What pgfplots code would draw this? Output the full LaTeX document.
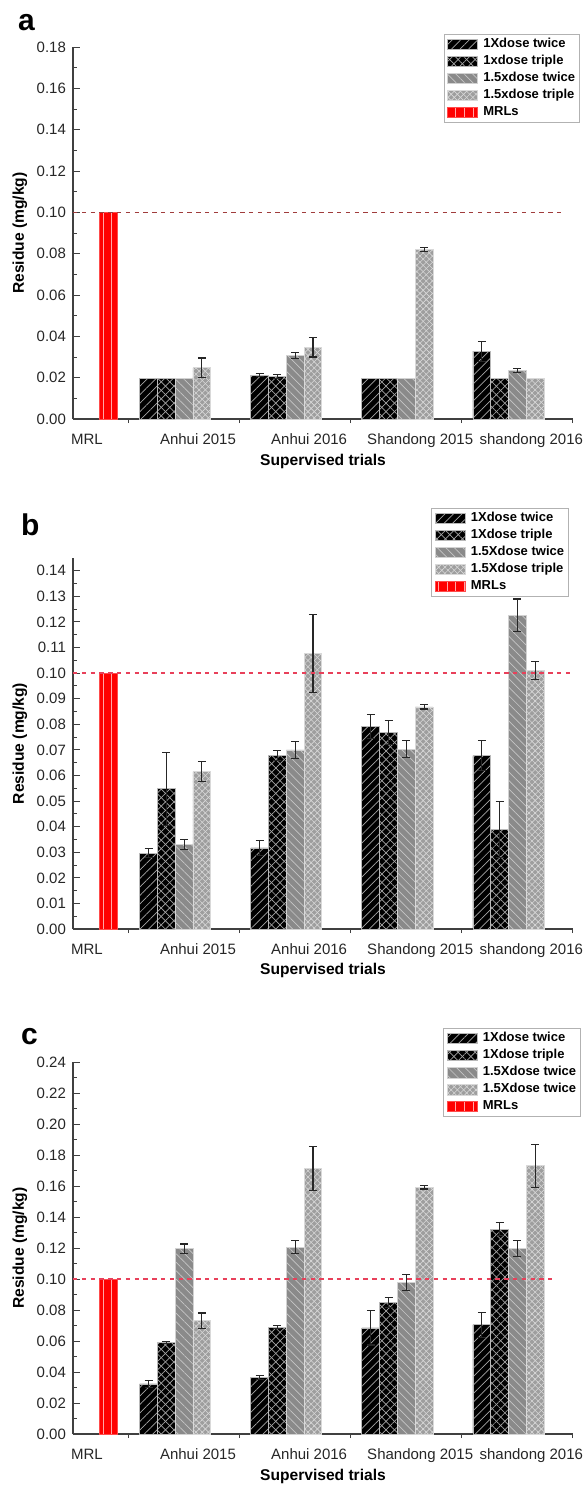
\documentclass[border=0pt]{standalone}
\usepackage{fontspec}
\setmainfont{Liberation Sans}
\usepackage{pgfplots}
\pgfplotsset{compat=1.18}
\usepackage{pgfplotstable}
\usetikzlibrary{patterns.meta}

% bar heights, groups at x = 1..4
\pgfplotstableread{
x v1     v2     v3     v4
1 0.0198 0.0197 0.0197 0.0248
2 0.0212 0.0204 0.0307 0.0348
3 0.0198 0.0197 0.0197 0.0820
4 0.0328 0.0197 0.0236 0.0197
}\tabA
\pgfplotstableread{
x y e
1.16 0.0248 0.0047
1.68 0.0212 0.0008
1.84 0.0204 0.0010
2.00 0.0307 0.0013
2.16 0.0348 0.0048
3.16 0.0820 0.0010
3.68 0.0328 0.0049
4.00 0.0236 0.0009
}\errA

\pgfplotstableread{
x v1     v2     v3     v4
1 0.0296 0.0548 0.0330 0.0615
2 0.0317 0.0678 0.0700 0.1078
3 0.0791 0.0769 0.0703 0.0868
4 0.0678 0.0389 0.1227 0.1010
}\tabB
\pgfplotstableread{
x y e
0.68 0.0296 0.0018
0.84 0.0548 0.0142
1.00 0.0330 0.0020
1.16 0.0615 0.0040
1.68 0.0317 0.0029
1.84 0.0678 0.0018
2.00 0.0700 0.0032
2.16 0.1078 0.0152
2.68 0.0791 0.0048
2.84 0.0769 0.0047
3.00 0.0703 0.0033
3.16 0.0868 0.0008
3.68 0.0678 0.0058
3.84 0.0389 0.0108
4.00 0.1227 0.0063
4.16 0.1010 0.0035
}\errB

\pgfplotstableread{
x v1     v2     v3     v4
1 0.0323 0.0591 0.1196 0.0731
2 0.0366 0.0690 0.1206 0.1713
3 0.0684 0.0849 0.0978 0.1591
4 0.0705 0.1321 0.1196 0.1730
}\tabC
\pgfplotstableread{
x y e
0.68 0.0323 0.0025
0.84 0.0591 0.0005
1.00 0.1196 0.0030
1.16 0.0731 0.0050
1.68 0.0366 0.0012
1.84 0.0690 0.0012
2.00 0.1206 0.0043
2.16 0.1713 0.0140
2.68 0.0684 0.0110
2.84 0.0849 0.0032
3.00 0.0978 0.0050
3.16 0.1591 0.0010
3.68 0.0705 0.0080
3.84 0.1321 0.0042
4.00 0.1196 0.0052
4.16 0.1730 0.0140
}\errC

\definecolor{midgray}{HTML}{8A8A8A}
\definecolor{lightgray}{HTML}{9E9E9E}
\definecolor{mrlred}{HTML}{FF0000}
\definecolor{dashA}{HTML}{A03C3C}
\definecolor{dashB}{HTML}{E8405A}

\pgfplotsset{
  s1/.style={fill=black, draw=gray!55, line width=0.4pt,
    postaction={pattern={Lines[angle=45,distance=3pt,line width=0.35pt]}, pattern color=gray!70}},
  s2/.style={fill=black, draw=gray!55, line width=0.4pt,
    postaction={pattern={Lines[angle=45,distance=3pt,line width=0.35pt]}, pattern color=gray!70},
    postaction={pattern={Lines[angle=-45,distance=3pt,line width=0.35pt]}, pattern color=gray!70}},
  s3/.style={fill=midgray, draw=gray!35, line width=0.4pt,
    postaction={pattern={Lines[angle=-45,distance=3pt,line width=0.35pt]}, pattern color=gray!45}},
  s4/.style={fill=lightgray, draw=gray!30, line width=0.4pt,
    postaction={pattern={Lines[angle=45,distance=2.2pt,line width=0.3pt]}, pattern color=gray!30},
    postaction={pattern={Lines[angle=-45,distance=2.2pt,line width=0.3pt]}, pattern color=gray!30}},
  s5/.style={fill=mrlred, draw=red!70, line width=0.4pt,
    postaction={pattern={Lines[angle=90,distance=4.3pt,line width=0.4pt]}, pattern color=red!35}},
  errs/.style={forget plot, draw=none, mark=none,
    error bars/.cd, y dir=both, y explicit,
    error bar style={draw=black!85, line width=0.55pt},
    error mark options={rotate=90, draw=black!85, mark size=2pt, line width=0.55pt}},
  panel/.style={
    scale only axis, width=250pt,
    anchor=north west,
    xmin=0, xmax=4.5, ymin=0,
    enlargelimits=false, clip=false,
    axis x line*=bottom, axis y line*=left,
    axis line style={-, line width=0.6pt, draw=black!75},
    tick align=inside,
    major tick length=3.5pt, minor tick length=2pt,
    tick style={line width=0.5pt, draw=black!75},
    xtick={0.125,1.125,2.125,3.125,4.125},
    xticklabels={MRL,Anhui 2015,Anhui 2016,Shandong 2015,shandong 2016},
    major x tick style={draw=none},
    minor xtick={0.5,1.5,2.5,3.5,4.5},
    minor y tick num=1,
    ticklabel style={font=\fontsize{7.5}{8}\selectfont, text=black!85},
    yticklabel style={/pgf/number format/.cd, fixed, fixed zerofill, precision=2, assume math mode=true},
    xticklabel style={yshift=-0.5pt},
    ylabel={Residue (mg/kg)},
    xlabel={Supervised trials},
    label style={font=\bfseries\fontsize{7.8}{8}\selectfont},
    ylabel style={at={(axis description cs:-0.106,0.5)}, anchor=center, rotate=0},
    xlabel style={at={(axis description cs:0.5,-0.113)}, anchor=center},
    ybar, bar width=0.16, bar shift=0pt,
    legend cell align=left,
    legend image code/.code={\draw[##1] (0pt,-2.6pt) rectangle (15pt,2.6pt);},
    legend style={anchor=north east, draw=gray!60, line width=0.5pt,
      font=\bfseries\fontsize{6.5}{7}\selectfont,
      inner xsep=1.5pt, inner ysep=1.2pt, row sep=0.9pt,
      nodes={inner sep=0.7pt},
      /tikz/every odd column/.append style={column sep=2pt}},
  }
}

\begin{document}
\begin{tikzpicture}
\path[use as bounding box] (0,0) rectangle (292.5pt,-742.5pt);

\node[anchor=west, font=\bfseries\fontsize{15}{15}\selectfont] at (5.5pt,-11.5pt) {a};
\node[anchor=west, font=\bfseries\fontsize{15}{15}\selectfont] at (7pt,-262.5pt) {b};
\node[anchor=west, font=\bfseries\fontsize{15}{15}\selectfont] at (7pt,-518.5pt) {c};

% panel a
\begin{axis}[panel, at={(36.5pt,-23.5pt)}, height=186pt,
  ymax=0.18, ytick distance=0.02,
  legend style={at={(axis description cs:1.014,1.035)}}]
\addplot[s1] table[x expr=\thisrow{x}-0.32, y=v1] {\tabA};
\addplot[s2] table[x expr=\thisrow{x}-0.16, y=v2] {\tabA};
\addplot[s3] table[x=x, y=v3] {\tabA};
\addplot[s4] table[x expr=\thisrow{x}+0.16, y=v4] {\tabA};
\addplot[s5] coordinates {(0.32,0.10)};
\legend{1Xdose twice,1xdose triple,1.5xdose twice,1.5xdose triple,MRLs}
\addplot[errs] table[x=x, y=y, y error=e] {\errA};
\addplot[forget plot, sharp plot, draw=dashA, line width=0.6pt, dash pattern=on 2.2pt off 2.2pt] coordinates {(0,0.10) (4.39,0.10)};
\end{axis}

% panel b
\begin{axis}[panel, at={(36.5pt,-279pt)}, height=185.5pt,
  ymax=0.145, ytick={0,0.01,...,0.141}, minor y tick num=1,
  legend style={at={(axis description cs:0.992,1.135)}}]
\addplot[s1] table[x expr=\thisrow{x}-0.32, y=v1] {\tabB};
\addplot[s2] table[x expr=\thisrow{x}-0.16, y=v2] {\tabB};
\addplot[s3] table[x=x, y=v3] {\tabB};
\addplot[s4] table[x expr=\thisrow{x}+0.16, y=v4] {\tabB};
\addplot[s5] coordinates {(0.32,0.10)};
\legend{1Xdose twice,1Xdose triple,1.5Xdose twice,1.5Xdose triple,MRLs}
\addplot[errs] table[x=x, y=y, y error=e] {\errB};
\addplot[forget plot, sharp plot, draw=dashB, line width=0.7pt, dash pattern=on 2.2pt off 2.2pt] coordinates {(0,0.10) (4.5,0.10)};
\end{axis}

% panel c
\begin{axis}[panel, at={(36.5pt,-531pt)}, height=186pt,
  ymax=0.24, ytick distance=0.02,
  legend style={at={(axis description cs:1.016,1.091)}}]
\addplot[s1] table[x expr=\thisrow{x}-0.32, y=v1] {\tabC};
\addplot[s2] table[x expr=\thisrow{x}-0.16, y=v2] {\tabC};
\addplot[s3] table[x=x, y=v3] {\tabC};
\addplot[s4] table[x expr=\thisrow{x}+0.16, y=v4] {\tabC};
\addplot[s5] coordinates {(0.32,0.10)};
\legend{1Xdose twice,1Xdose triple,1.5Xdose twice,1.5Xdose twice,MRLs}
\addplot[errs] table[x=x, y=y, y error=e] {\errC};
\addplot[forget plot, sharp plot, draw=dashB, line width=0.7pt, dash pattern=on 2.2pt off 2.2pt] coordinates {(0,0.10) (4.31,0.10)};
\end{axis}
\end{tikzpicture}
\end{document}
